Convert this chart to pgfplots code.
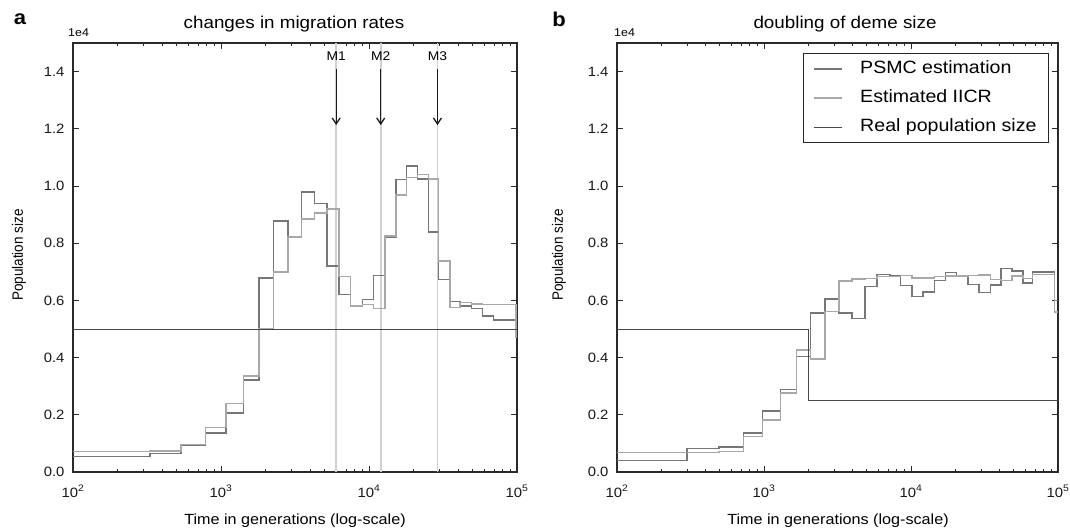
\documentclass[border=0pt]{standalone}
\usepackage{fontspec}
\setmainfont{Liberation Sans}[FakeStretch=1.1]
\newfontfamily\ylabfam{Liberation Sans}[FakeStretch=0.9]
\usepackage{pgfplots}
\pgfplotsset{compat=1.18}
\usetikzlibrary{arrows.meta}
\definecolor{psmc}{HTML}{767676}
\definecolor{iicr}{HTML}{A8A8A8}
\definecolor{real}{HTML}{484848}
\definecolor{vline}{HTML}{D0D0D0}
\definecolor{axc}{HTML}{2A2A2A}
\newcommand\tickf{\fontsize{13.5}{15}\selectfont}
\newcommand\titf{\fontsize{17.1}{19}\selectfont}
\newcommand\labf{\fontsize{14.7}{17}\selectfont}
\newcommand\legf{\fontsize{17.8}{20}\selectfont}
\newcommand\smf{\fontsize{11.3}{13}\selectfont}
\newcommand\mf{\fontsize{12.6}{14}\selectfont}
\newcommand\ylabf{\ylabfam\fontsize{15}{17}\selectfont}

\pgfplotsset{
  every axis/.append style={
    scale only axis, height=429pt,
    xmin=100, xmax=100000, ymin=0, ymax=1.5,
    xtick={100,1000,10000,100000},
    xticklabels={10\textsuperscript{2},10\textsuperscript{3},10\textsuperscript{4},10\textsuperscript{5}},
    minor xtick={200,300,400,500,600,700,800,900,2000,3000,4000,5000,6000,7000,8000,9000,20000,30000,40000,50000,60000,70000,80000,90000},
    ytick={0,0.2,0.4,0.6,0.8,1.0,1.2,1.4},
    yticklabels={0.0,0.2,0.4,0.6,0.8,1.0,1.2,1.4},
    tick label style={font=\tickf, color=black!90},
    xticklabel style={anchor=base, yshift=-25pt},
    yticklabel style={anchor=east, xshift=-5pt},
    major tick length=6pt, minor tick length=3.5pt,
    every tick/.append style={axc, line width=0.8pt},
    axis line style={axc, line width=1.1pt},
  }
}

\begin{document}
\begin{tikzpicture}
\path[use as bounding box] (0,0) rectangle (1070pt,528pt);

% ---------------- panel a ----------------
\begin{axis}[xmode=log, at={(73pt,56pt)}, anchor=south west, width=444pt]
\draw[vline, line width=1.6pt] (axis cs:6000,0) -- (axis cs:6000,1.5);
\draw[vline, line width=1.6pt] (axis cs:12000,0) -- (axis cs:12000,1.5);
\draw[vline, line width=1.6pt] (axis cs:29000,0) -- (axis cs:29000,1.5);
\addplot[const plot, psmc, line width=1.5pt] coordinates {
(100,0.055) (331,0.064) (537,0.095) (783,0.137) (1077,0.207) (1423,0.321)
(1807,0.679) (2270,0.878) (2840,0.822) (3510,0.979) (4273,0.939) (5200,0.721)
(6270,0.621) (7516,0.580) (9010,0.603) (10700,0.687) (12830,0.820) (15200,1.023)
(17970,1.070) (21200,1.024) (25170,0.840) (29570,0.673) (35250,0.596) (41200,0.580)
(49400,0.572) (58600,0.545) (69200,0.531) (100000,0.531)};
\addplot[const plot, iicr, line width=1.5pt] coordinates {
(100,0.071) (331,0.074) (537,0.096) (783,0.155) (1077,0.239) (1423,0.335)
(1807,0.500) (2270,0.700) (2840,0.822) (3510,0.885) (4273,0.906) (5200,0.920)
(6270,0.683) (7516,0.580) (9010,0.585) (10700,0.572) (12830,0.825) (15200,0.969)
(17970,1.030) (21200,1.040) (25170,1.025) (29570,0.737) (35250,0.575) (41200,0.593)
(49400,0.587) (58600,0.586) (69200,0.586) (98500,0.470) (100000,0.470)};
\addplot[const plot, real, line width=0.9pt] coordinates {(100,0.5) (100000,0.5)};
\draw[-{Straight Barb[length=6pt,width=8pt]}, line width=1.3pt, black!90] (axis cs:6000,1.41) -- (axis cs:6000,1.213);
\draw[-{Straight Barb[length=6pt,width=8pt]}, line width=1.3pt, black!90] (axis cs:12000,1.41) -- (axis cs:12000,1.213);
\draw[-{Straight Barb[length=6pt,width=8pt]}, line width=1.3pt, black!90] (axis cs:29000,1.41) -- (axis cs:29000,1.213);
\node[anchor=base, font=\mf, inner sep=0pt] at (axis cs:6000,1.438) {M1};
\node[anchor=base, font=\mf, inner sep=0pt] at (axis cs:12000,1.438) {M2};
\node[anchor=base, font=\mf, inner sep=0pt] at (axis cs:29000,1.438) {M3};
\end{axis}

% ---------------- panel b ----------------
\begin{axis}[xmode=log, at={(617pt,56pt)}, anchor=south west, width=441pt,
  legend cell align=left,
  legend image code/.code={\draw[#1] (0pt,0pt) -- (28pt,0pt);},
  legend style={at={(rel axis cs:1,1)}, anchor=north east, xshift=-9pt, yshift=-10pt,
    draw=black!85, line width=0.9pt, font=\legf, inner xsep=10pt, inner ysep=5pt,
    column sep=15pt, row sep=8pt,
    nodes={inner sep=2pt, text height=13pt, text depth=4pt}}]
\addplot[const plot, psmc, line width=1.5pt] coordinates {
(100,0.041) (300,0.082) (495,0.088) (724,0.137) (980,0.213) (1297,0.289)
(1666,0.404) (2075,0.556) (2608,0.605) (3230,0.556) (3980,0.536) (4856,0.649)
(5878,0.691) (7170,0.687) (8510,0.652) (10160,0.614) (12070,0.630) (14490,0.670)
(17200,0.698) (20340,0.684) (24380,0.656) (28970,0.628) (34600,0.654) (41100,0.712)
(48800,0.703) (57600,0.661) (67100,0.700) (95000,0.600) (100000,0.600)};
\addlegendentry{PSMC estimation}
\addplot[const plot, iicr, line width=1.5pt] coordinates {
(100,0.068) (300,0.068) (495,0.071) (724,0.125) (980,0.181) (1297,0.277)
(1666,0.427) (2075,0.395) (2608,0.562) (3230,0.668) (3980,0.674) (4856,0.677)
(5878,0.684) (7170,0.684) (8510,0.687) (10160,0.679) (12070,0.679) (14490,0.684)
(17200,0.685) (20340,0.686) (24380,0.687) (28970,0.689) (34600,0.673) (41100,0.670)
(48800,0.685) (57600,0.676) (67100,0.690) (95000,0.560) (100000,0.560)};
\addlegendentry{Estimated IICR}
\addplot[const plot, real, line width=0.9pt] coordinates {(100,0.5) (2000,0.25) (100000,0.25)};
\addlegendentry{Real population size}
\end{axis}

% ---------------- annotations ----------------
\node[font=\fontsize{20}{22}\selectfont\bfseries] at (20pt,509pt) {a};
\node[font=\fontsize{20}{22}\selectfont\bfseries] at (559pt,509pt) {b};
\node[font=\titf, anchor=base] at (294pt,499pt) {changes in migration rates};
\node[font=\titf, anchor=base] at (845pt,499pt) {doubling of deme size};
\node[font=\smf, anchor=base west, inner sep=0pt] at (68pt,491pt) {1e4};
\node[font=\smf, anchor=base west, inner sep=0pt] at (614pt,491pt) {1e4};
\node[font=\labf, anchor=base] at (295pt,4pt) {Time in generations (log-scale)};
\node[font=\labf, anchor=base] at (838pt,4pt) {Time in generations (log-scale)};
\node[font=\ylabf, rotate=90] at (19pt,273pt) {Population size};
\node[font=\ylabf, rotate=90] at (559pt,273pt) {Population size};
\end{tikzpicture}
\end{document}
